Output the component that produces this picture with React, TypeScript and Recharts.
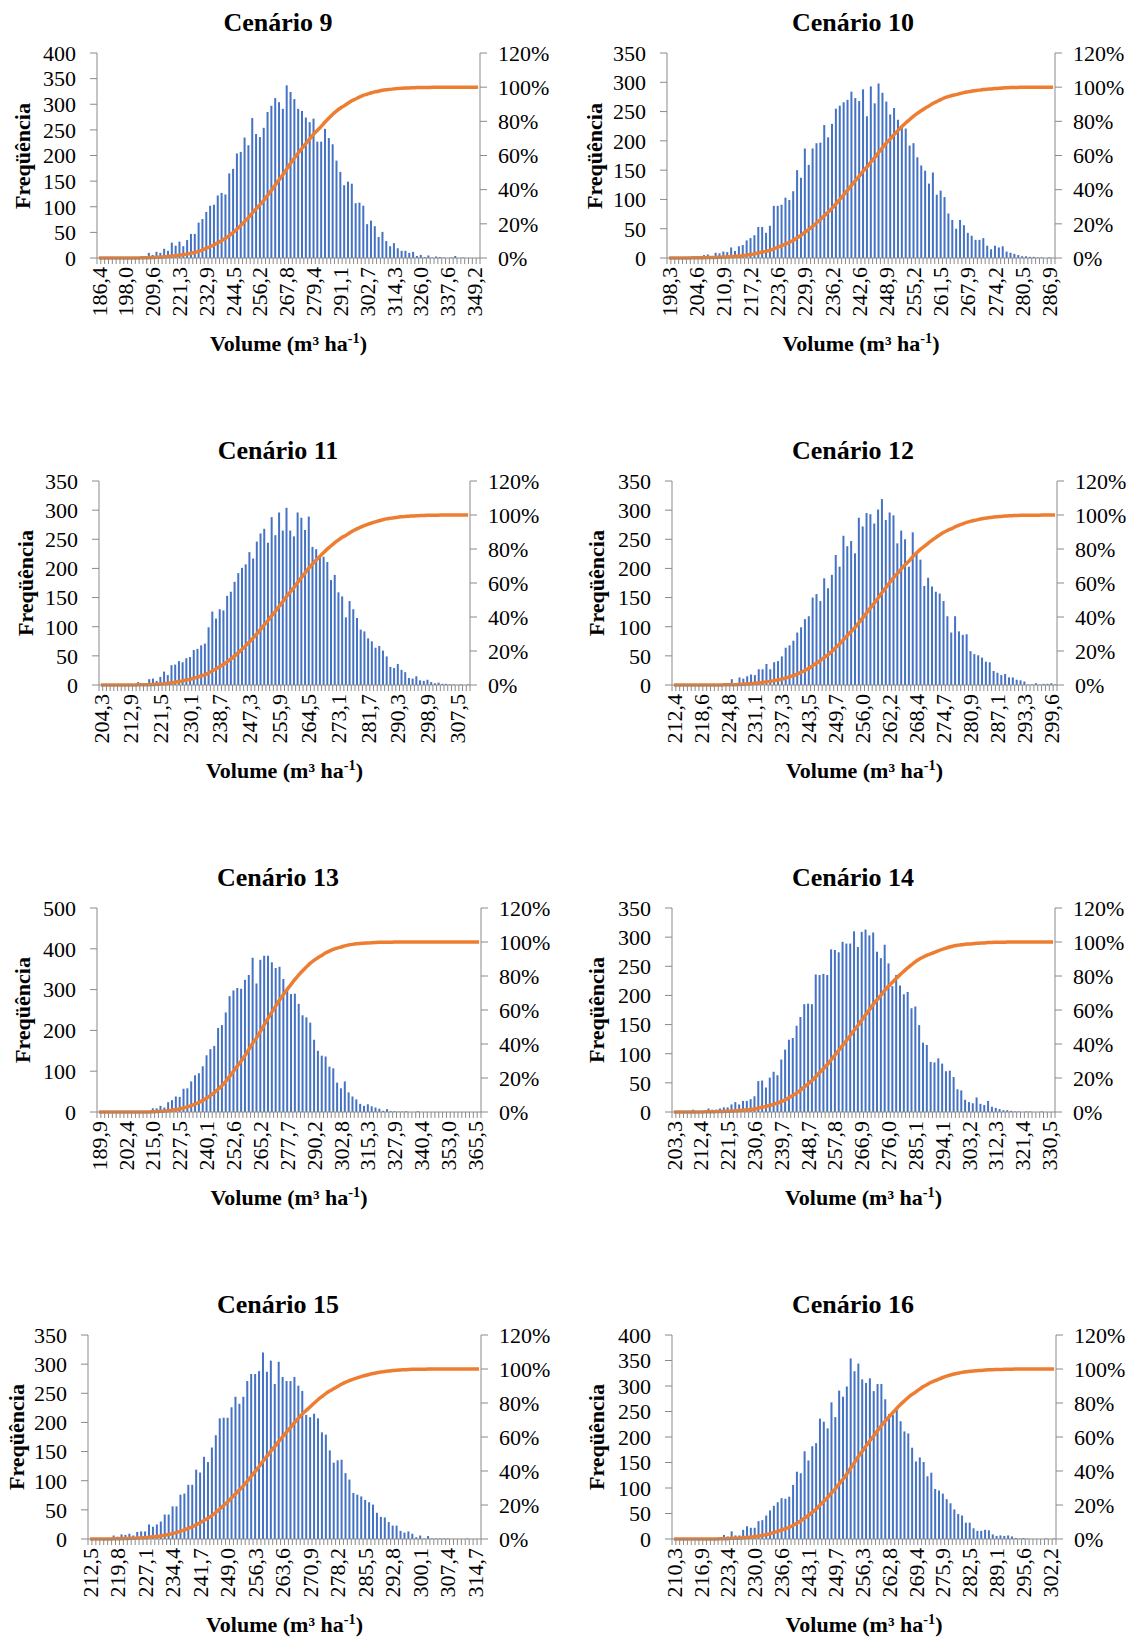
import React from 'react';
import { ComposedChart, Bar, Line, XAxis, YAxis } from 'recharts';

const FONT = '"Liberation Serif", "Times New Roman", Times, serif';
const AXIS = '#8a8a8a';
const BAR = '#4472C4';
const LINE = '#ED7D31';

// ---- Frequencies (100 classes per scenario) ----
const freq9 = [0,0,0,0,0,0,1,1,1,1,2,2,3,
  10,6,12,10,18,14,30,24,32,23,
  35,47,47,69,76,90,102,104,122,127,
  124,165,174,204,207,235,220,273,242,236,
  254,285,297,312,304,291,337,324,310,291,
  287,274,265,272,227,227,252,234,222,190,
  168,142,149,145,107,108,102,66,73,62,
  41,51,33,23,29,19,14,14,10,12,
  4,6,2,5,1,3,2,1,0,1,
  4,0,1,0,0,0,0];
const freq10 = [0,0,1,1,1,2,
  3,3,3,5,6,2,9,8,11,10,
  18,12,20,22,30,34,39,53,53,43,
  55,89,89,91,103,99,114,150,137,187,
  159,187,196,197,227,206,229,255,260,266,
  270,284,273,268,288,242,293,264,298,282,
  267,245,256,236,227,221,192,196,172,158,
  149,127,146,108,115,104,76,65,50,65,
  56,43,38,31,31,34,21,15,21,18,
  20,11,9,7,5,3,3,2,2,1,
  1,0,1,0];
const freq11 = [0,0,0,0,0,1,0,1,1,1,
  5,1,1,10,11,7,14,23,17,34,
  35,41,39,46,48,60,62,68,71,99,
  126,114,130,128,153,160,177,192,201,207,
  228,217,246,260,268,244,288,257,296,265,
  304,265,255,296,287,266,289,237,233,221,
  220,211,180,189,159,152,116,144,130,115,
  95,92,80,75,64,67,59,49,31,29,
  36,26,22,12,11,15,8,7,9,5,
  3,4,2,2,1,1,0,1,0,1];
const freq12 = [0,0,0,0,0,1,0,0,1,0,2,1,1,2,1,
  10,2,13,11,15,18,17,27,27,36,
  27,39,41,49,64,68,76,90,99,113,
  118,150,156,144,183,166,189,223,203,256,
  238,247,226,287,272,295,293,277,301,319,
  283,296,291,243,265,250,203,262,228,215,
  170,184,169,160,157,144,118,90,118,92,
  86,87,58,53,51,47,40,39,24,21,
  17,19,13,13,9,8,6,1,1,3,
  1,2,2,3,1];
const freq13 = [0,0,0,0,0,0,0,0,1,1,1,1,1,
  2,9,9,15,11,24,29,38,37,57,
  58,75,90,95,112,139,154,162,206,213,
  244,284,298,304,302,324,336,378,315,373,
  383,383,367,353,356,326,301,289,290,265,
  237,232,219,177,150,138,136,111,107,72,
  58,75,48,38,31,20,15,19,14,11,
  8,3,7,2,2,1,1,2,0,0,
  2,0,0,0,0,0,0,0,0,0,
  0,0,0,0,0,0,0];
const freq14 = [0,0,1,0,0,4,0,1,2,
  6,4,4,6,8,8,13,17,13,19,
  19,22,27,53,54,42,59,69,63,90,
  107,124,127,148,163,185,186,185,236,235,
  237,235,279,278,274,292,289,289,310,283,
  309,313,303,308,275,264,287,255,216,235,
  217,202,206,178,181,149,119,115,86,85,
  92,83,70,71,60,39,37,21,17,15,
  25,14,12,19,9,7,5,3,3,2,
  1,1,0,1,1,0,0,1,0,0,0];
const freq15 = [0,0,0,1,0,1,
  6,4,8,7,9,6,12,13,13,25,
  21,25,30,42,42,56,56,76,78,93,
  93,119,114,141,132,157,178,207,208,208,
  226,244,232,244,271,283,283,288,320,287,
  306,266,304,278,271,271,278,263,254,213,
  209,215,207,183,179,152,131,135,136,113,
  102,79,76,73,67,63,59,45,38,37,
  29,23,23,14,11,13,9,3,6,1,
  5,1,1,1,1,1,0,0,0,0,
  1,0,0,0];
const freq16 = [0,0,0,0,0,1,0,1,1,1,2,1,2,
  8,5,15,7,7,18,25,22,22,35,
  37,46,56,65,72,80,79,83,106,132,
  129,172,154,182,188,236,230,217,268,239,
  291,279,299,354,329,344,313,306,315,290,
  304,304,274,245,243,253,231,211,207,179,
  152,160,151,123,130,98,95,89,78,70,
  58,49,46,32,32,21,16,16,18,17,
  9,6,7,6,7,5,2,1,2,1,
  0,0,0,0,1,0,1];

// ---- Category tick labels ----
const labels9 = ['186,4','198,0','209,6','221,3','232,9','244,5','256,2','267,8','279,4','291,1','302,7','314,3','326,0','337,6','349,2'];
const labels10 = ['198,3','204,6','210,9','217,2','223,6','229,9','236,2','242,6','248,9','255,2','261,5','267,9','274,2','280,5','286,9'];
const labels11 = ['204,3','212,9','221,5','230,1','238,7','247,3','255,9','264,5','273,1','281,7','290,3','298,9','307,5'];
const labels12 = ['212,4','218,6','224,8','231,1','237,3','243,5','249,7','256,0','262,2','268,4','274,7','280,9','287,1','293,3','299,6'];
const labels13 = ['189,9','202,4','215,0','227,5','240,1','252,6','265,2','277,7','290,2','302,8','315,3','327,9','340,4','353,0','365,5'];
const labels14 = ['203,3','212,4','221,5','230,6','239,7','248,7','257,8','266,9','276,0','285,1','294,1','303,2','312,3','321,4','330,5'];
const labels15 = ['212,5','219,8','227,1','234,4','241,7','249,0','256,3','263,6','270,9','278,2','285,5','292,8','300,1','307,4','314,7'];
const labels16 = ['210,3','216,9','223,4','230,0','236,6','243,1','249,7','256,3','262,8','269,4','275,9','282,5','289,1','295,6','302,2'];

const pctTicks = [0, 0.2, 0.4, 0.6, 0.8, 1.0, 1.2];

type Panel = {
  title: string; freq: number[]; labels: string[]; step: number;
  yMax: number; yStep: number;
  L: number; R: number; T: number; B: number; titleX: number; ylabX: number;
};

const panels: Panel[] = [
  { title: 'Cenário 9', freq: freq9, labels: labels9, step: 7, yMax: 400, yStep: 50, L: 97, R: 480, T: 53, B: 258, titleX: 278, ylabX: 23 },
  { title: 'Cenário 10', freq: freq10, labels: labels10, step: 7, yMax: 350, yStep: 50, L: 667, R: 1055, T: 53, B: 258, titleX: 853, ylabX: 595 },
  { title: 'Cenário 11', freq: freq11, labels: labels11, step: 8, yMax: 350, yStep: 50, L: 99, R: 470, T: 481, B: 685, titleX: 278, ylabX: 26 },
  { title: 'Cenário 12', freq: freq12, labels: labels12, step: 7, yMax: 350, yStep: 50, L: 672, R: 1057, T: 481, B: 685, titleX: 853, ylabX: 597 },
  { title: 'Cenário 13', freq: freq13, labels: labels13, step: 7, yMax: 500, yStep: 100, L: 97, R: 481, T: 908, B: 1112, titleX: 278, ylabX: 23 },
  { title: 'Cenário 14', freq: freq14, labels: labels14, step: 7, yMax: 350, yStep: 50, L: 672, R: 1055, T: 908, B: 1112, titleX: 853, ylabX: 597 },
  { title: 'Cenário 15', freq: freq15, labels: labels15, step: 7, yMax: 350, yStep: 50, L: 88, R: 481, T: 1335, B: 1539, titleX: 278, ylabX: 17 },
  { title: 'Cenário 16', freq: freq16, labels: labels16, step: 7, yMax: 400, yStep: 50, L: 672, R: 1056, T: 1335, B: 1539, titleX: 853, ylabX: 597 },
];

function buildRows(freq: number[]) {
  const total = freq.reduce((a, b) => a + b, 0);
  let cum = 0;
  return freq.map((f, i) => {
    cum += f;
    return { i, f, cum: cum / total };
  });
}

function Histo({ p }: { p: Panel }) {
  const plotW = p.R - p.L;
  const plotH = p.B - p.T;
  const padL = 80, padR = 80, padT = 25, xH = 80;
  const W = plotW + padL + padR;
  const H = plotH + padT + xH;
  const n = p.freq.length;
  const band = plotW / n;
  const data = buildRows(p.freq);
  const yTicks: number[] = [];
  for (let v = 0; v <= p.yMax; v += p.yStep) yTicks.push(v);

  const renderTick = (props: any) => {
    const { x, y, index } = props;
    const isLabel = index % p.step === 0;
    const lab = isLabel ? p.labels[index / p.step] : undefined;
    return (
      <g key={`t${index}`}>
        <line x1={x - band / 2} x2={x - band / 2} y1={y} y2={y + 6} stroke={AXIS} strokeWidth={1} />
        {index === n - 1 && (
          <line x1={x + band / 2} x2={x + band / 2} y1={y} y2={y + 6} stroke={AXIS} strokeWidth={1} />
        )}
        {lab && (
          <text
            transform={`translate(${x},${y + 9}) rotate(-90)`}
            textAnchor="end"
            dy="0.35em"
            fontSize={22}
            fontFamily={FONT}
            fill="#000"
          >
            {lab}
          </text>
        )}
      </g>
    );
  };

  const tickStyle = { fill: '#000', fontSize: 22, fontFamily: FONT };

  return (
    <div style={{ position: 'absolute', left: p.L - padL, top: p.T - padT, width: W, height: H }}>
      <ComposedChart
        width={W}
        height={H}
        data={data}
        margin={{ top: padT, right: 0, bottom: 0, left: 0 }}
        barCategoryGap="27%"
      >
        <XAxis
          dataKey="i"
          type="category"
          interval={0}
          height={xH}
          tickLine={false}
          tickSize={0}
          tickMargin={0}
          axisLine={{ stroke: AXIS, strokeWidth: 1 }}
          tick={renderTick}
        />
        <YAxis
          yAxisId="left"
          orientation="left"
          width={padL}
          domain={[0, p.yMax]}
          ticks={yTicks}
          interval={0}
          tickSize={7}
          tickMargin={14}
          axisLine={{ stroke: AXIS, strokeWidth: 1 }}
          tickLine={{ stroke: AXIS, strokeWidth: 1 }}
          tick={tickStyle}
        />
        <YAxis
          yAxisId="right"
          orientation="right"
          width={padR}
          domain={[0, 1.2]}
          ticks={pctTicks}
          interval={0}
          tickSize={7}
          tickMargin={11}
          axisLine={{ stroke: AXIS, strokeWidth: 1 }}
          tickLine={{ stroke: AXIS, strokeWidth: 1 }}
          tick={tickStyle}
          tickFormatter={(v: number) => `${Math.round(v * 100)}%`}
        />
        <Bar yAxisId="left" dataKey="f" fill={BAR} isAnimationActive={false} />
        <Line
          yAxisId="right"
          type="monotone"
          dataKey="cum"
          stroke={LINE}
          strokeWidth={3.5}
          dot={false}
          activeDot={false}
          isAnimationActive={false}
        />
      </ComposedChart>
    </div>
  );
}

function Labels({ p }: { p: Panel }) {
  const midY = (p.T + p.B) / 2;
  const midX = (p.L + p.R) / 2;
  return (
    <>
      <div
        style={{
          position: 'absolute', left: p.titleX - 150, top: p.T - 30 - 15, width: 300, height: 30,
          lineHeight: '30px', textAlign: 'center', fontFamily: FONT, fontWeight: 'bold', fontSize: 26, color: '#000',
        }}
      >
        {p.title}
      </div>
      <div
        style={{
          position: 'absolute', left: midX - 150, top: p.B + 86 - 15, width: 300, height: 30,
          lineHeight: '30px', textAlign: 'center', fontFamily: FONT, fontWeight: 'bold', fontSize: 22, color: '#000',
          whiteSpace: 'nowrap',
        }}
      >
        Volume (m³ ha<sup style={{ fontSize: '0.65em', verticalAlign: '0.55em', lineHeight: 0 }}>-1</sup>)
      </div>
      <div
        style={{
          position: 'absolute', left: p.ylabX - 100, top: midY - 15, width: 200, height: 30,
          lineHeight: '30px', textAlign: 'center', fontFamily: FONT, fontWeight: 'bold', fontSize: 22, color: '#000',
          transform: 'rotate(-90deg)', whiteSpace: 'nowrap',
        }}
      >
        Freqüência
      </div>
    </>
  );
}

export default function App() {
  return (
    <div style={{ position: 'absolute', left: 0, top: 0, width: 1131, height: 1637, background: '#fff', overflow: 'hidden' }}>
      {panels.map((p) => (
        <React.Fragment key={p.title}>
          <Histo p={p} />
          <Labels p={p} />
        </React.Fragment>
      ))}
    </div>
  );
}
